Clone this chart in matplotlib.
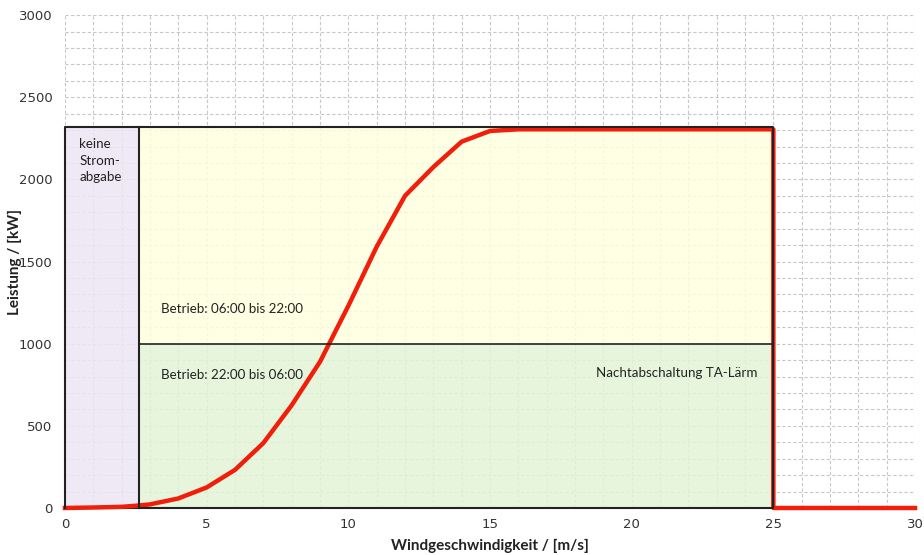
import matplotlib
matplotlib.use("Agg")
import matplotlib.pyplot as plt
from matplotlib.patches import Rectangle
from matplotlib.ticker import MultipleLocator

# Power curve data
wind = [0, 1, 2, 2.6, 3, 4, 5, 6, 7, 8, 9, 10, 11, 12, 13, 14, 15, 16, 17, 18, 19, 20, 21, 22, 23, 24, 25, 25, 30]
power = [0, 3, 7, 15, 22, 58, 125, 232, 395, 625, 890, 1230, 1590, 1900, 2075, 2230, 2295, 2305, 2305, 2305, 2305, 2305, 2305, 2305, 2305, 2305, 2305, 0, 0]

# Regions
cut_in = 2.6
cut_out = 25
rated = 2320
night_limit = 1000

fig = plt.figure(figsize=(9.24, 5.55), dpi=100)
ax = fig.add_axes([0.0703, 0.0847, 0.92, 0.888])

ax.set_xlim(0, 30)
ax.set_ylim(0, 3000)
ax.xaxis.set_major_locator(MultipleLocator(5))
ax.xaxis.set_minor_locator(MultipleLocator(1))
ax.yaxis.set_major_locator(MultipleLocator(500))
ax.yaxis.set_minor_locator(MultipleLocator(100))
ax.grid(which='both', color='#c8c8c8', linestyle=(0, (3, 2)), linewidth=0.8)
ax.set_axisbelow(True)
for s in ax.spines.values():
    s.set_visible(False)
ax.tick_params(which='both', length=0, labelsize=9.5, colors='#333333')
ax.tick_params(axis='y', pad=9)
ax.tick_params(axis='x', pad=7)

# Background zones
ax.add_patch(Rectangle((0, 0), cut_in, rated, facecolor='#ECE6F4', edgecolor='none', zorder=1, alpha=0.85))
ax.add_patch(Rectangle((cut_in, night_limit), cut_out - cut_in, rated - night_limit, facecolor='#FFFFE0', edgecolor='none', zorder=1, alpha=0.85))
ax.add_patch(Rectangle((cut_in, 0), cut_out - cut_in, night_limit, facecolor='#E2F4D6', edgecolor='none', zorder=1, alpha=0.85))

# Borders
kw = dict(color='#222222', linewidth=1.5, clip_on=False)
ax.plot([0, cut_in], [0, 0], zorder=2, **kw)
ax.plot([cut_in, cut_out, cut_out, 0, 0], [0, 0, rated, rated, 0], zorder=4, **kw)
ax.plot([cut_in, cut_in], [0, rated], zorder=4, **kw)
ax.plot([cut_in, cut_out], [night_limit, night_limit], color='#222222', linewidth=1.2, zorder=4)

# Power curve
ax.plot(wind, power, color='#F01E0A', linewidth=3.2, zorder=3, solid_joinstyle='round', clip_on=False)

tfont = dict(family=['Lato', 'DejaVu Sans'], fontsize=9.6, color='#222222', zorder=5)
ax.text(0.5, 2250, "keine\nStrom-\nabgabe", va='top', ha='left', linespacing=1.45, **tfont)
ax.text(3.4, 1210, "Betrieb: 06:00 bis 22:00", va='center', ha='left', **tfont)
ax.text(3.4, 810, "Betrieb: 22:00 bis 06:00", va='center', ha='left', **tfont)
ax.text(21.6, 820, "Nachtabschaltung TA-Lärm", va='center', ha='center', **tfont)

lfont = dict(family=['Lato', 'DejaVu Sans'], fontsize=11, fontweight='bold', color='#222222')
ax.set_xlabel("Windgeschwindigkeit / [m/s]", **lfont)
ax.set_ylabel("Leistung / [kW]", **lfont)
ax.yaxis.set_label_coords(-0.0506, 0.5)
ax.xaxis.set_label_coords(0.5, -0.063)

fig.savefig("out.png", dpi=100)
